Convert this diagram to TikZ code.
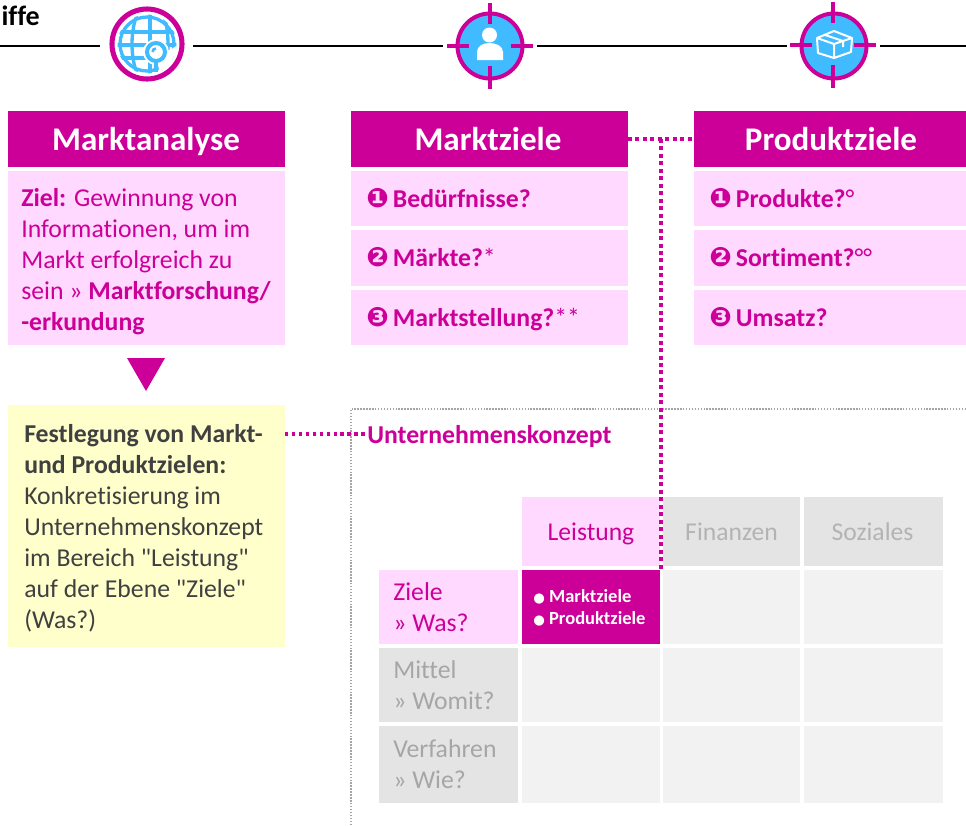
\documentclass[tikz,border=0pt]{standalone}
\usepackage{fontspec}
\setmainfont[Ligatures=NoCommon]{Carlito}
\newfontfamily\symfont{DejaVu Sans}
\newfontfamily\qf{Carlito}
\definecolor{mag}{HTML}{CC0099}
\definecolor{lpink}{HTML}{FFD9FF}
\definecolor{lyel}{HTML}{FFFFCC}
\definecolor{skyb}{HTML}{40BBFF}
\definecolor{cellg}{HTML}{F2F2F2}
\definecolor{headg}{HTML}{E4E4E4}
\definecolor{txtg}{HTML}{A6A6A6}
\definecolor{frameg}{HTML}{A6A6A6}
\newcommand{\pxbox}[5]{\node[#1,anchor=north west,minimum width=#4*0.75pt,minimum height=#5*0.75pt] (#2) at #3 {};}
\newcommand{\numA}{\makebox[20pt][l]{\symfont\fontsize{20}{16}\selectfont ❶}}
\newcommand{\numB}{\makebox[20pt][l]{\symfont\fontsize{20}{16}\selectfont ❷}}
\newcommand{\numC}{\makebox[20pt][l]{\symfont\fontsize{20}{16}\selectfont ❸}}
\newcommand{\qq}{{\qf"}}
\tikzset{
  fillbox/.style={inner sep=0pt,outer sep=0pt,draw=none},
  headbox/.style={fillbox,fill=mag},
  pinkbox/.style={fillbox,fill=lpink},
  yelbox/.style={fillbox,fill=lyel},
  greybox/.style={fillbox,fill=cellg},
  greyhead/.style={fillbox,fill=headg},
  headtxt/.style={inner sep=0pt,anchor=base,text=white,font=\fontsize{24.8}{28}\selectfont\bfseries},
  bodytxt/.style={inner sep=0pt,anchor=north west,align=left,font=\fontsize{19.3}{23.25}\selectfont},
  rowtxt/.style={inner sep=0pt,anchor=base west,text=mag,font=\fontsize{19.3}{22}\selectfont\bfseries},
  celltxt/.style={inner sep=0pt,anchor=west,align=left,font=\fontsize{19.3}{23.25}\selectfont},
  coltxt/.style={inner sep=0pt,anchor=base,font=\fontsize{19.2}{22}\selectfont},
  rule/.style={line width=1.5pt,black},
  pinkdots/.style={draw=mag,line width=3.3pt,dash pattern=on 3pt off 2.6pt},
  pinkdotsthin/.style={draw=mag,line width=2.4pt,dash pattern=on 2.6pt off 2.6pt},
  framedots/.style={draw=frameg,line width=1.1pt,dash pattern=on 1.1pt off 1.1pt},
  icondisk/.style={circle,minimum size=65*0.75pt,inner sep=0pt,fill=skyb,draw=mag,line width=3pt},
  ring/.style={circle,minimum size=70*0.75pt,inner sep=0pt,fill=white,draw=mag,line width=3.8pt},
  crosshair/.style={draw=mag,line width=3.4pt},
  glyph/.style={draw=white,line width=1.5pt,line join=round},
  globeline/.style={draw=skyb,line width=2.5pt},
}
\begin{document}
\begin{tikzpicture}[x=0.75pt,y=-0.75pt]
\useasboundingbox (0,0) rectangle (966,825);

% top title
\node[inner sep=0pt,anchor=base east,font=\fontsize{21}{24}\selectfont\bfseries] (title) at (40,25) {iffe};

% icons
\node[ring] (iconA) at (147,44) {};
\begin{scope}
  \clip (147,44) circle (29.5);
  \foreach \yy in {32,45,58} \draw[globeline] (115,\yy) -- (180,\yy);
  \draw[globeline] (138,12) .. controls (130,30) and (130,58) .. (138,76);
  \draw[globeline] (150,12) -- (150,76);
  \draw[globeline] (162,12) .. controls (168,25) and (168,35) .. (168,50);
  \draw[globeline] (147,44) circle (27);
  \fill[white] (156,52) circle (13);
  \fill[white] (157,58) -- (178,45) -- (172,68) -- (160,76) -- cycle;
\end{scope}
\draw[globeline,line width=3pt] (156,52) circle (9);
\draw[globeline,line width=2pt] (152.5,52) .. controls (152.5,50) and (154,48.5) .. (156,48.5);
\draw[globeline,line width=3pt] (156,61) -- (156,72);

\node[icondisk] (iconB) at (490,46) {};
\foreach \dx/\dy/\ex/\ey in {-43/0/-21/0, 43/0/21/0, 0/-43/0/-22, 0/43/0/20}
  \draw[crosshair] (490+\dx,46+\dy) -- (490+\ex,46+\ey);
\fill[white] (489.5,35) circle (7.5);
\fill[white] (477,60) -- (477,52) .. controls (477,46) and (483,43) .. (489.5,43) .. controls (496,43) and (503,46) .. (503,52) -- (503,60) -- cycle;

\node[icondisk] (iconC) at (834,46) {};
\foreach \dx/\dy/\ex/\ey in {-43/0/-21/0, 43/0/21/0, 0/-43/0/-22, 0/43/0/20}
  \draw[crosshair] (833+\dx,45+\dy) -- (833+\ex,45+\ey);
\draw[glyph] (817,38) -- (834,44) -- (852,38) -- (834,31) -- cycle
  (817,38) -- (818,53) -- (834,58) -- (834,44)
  (834,58) -- (851,52) -- (852,38)
  (825,35) -- (843,41) -- (843,47);

% black rules
\coordinate (ruleLa) at (0,46);
\coordinate (ruleRb) at (966,46);
\draw[rule] (ruleLa) -- (100,46);
\draw[rule] (193,46) -- (443,46);
\draw[rule] (537,46) -- (787,46);
\draw[rule] (880,46) -- (ruleRb);

% column 1
\pxbox{headbox}{mah}{(8,111)}{277}{56}
\node[headtxt] at (146,150) {Marktanalyse};
\pxbox{pinkbox}{mab}{(8,171)}{277}{174}
\node[bodytxt,text=mag] (mabt) at (21,188) {\textbf{Ziel:} Gewinnung von\\Informationen, um im\\Markt erfolgreich zu\\sein » \textbf{Marktforschung/}\\\textbf{-erkundung}};
\fill[mag] (127,358) -- (165,358) -- (146,391) -- cycle;
\pxbox{yelbox}{fest}{(8,405)}{277}{242}
\node[bodytxt,text=black!75!white] (festt) at (24,424) {\textbf{Festlegung von Markt-}\\\textbf{und Produktzielen:}\\Konkretisierung im\\Unternehmenskonzept\\im Bereich \qq Leistung\qq\\auf der Ebene \qq Ziele\qq\\(Was?)};

% column 2
\pxbox{headbox}{mzh}{(351,111)}{277}{56}
\node[headtxt] at (488,150) {Marktziele};
\pxbox{pinkbox}{mz1}{(351,171)}{277}{55}
\pxbox{pinkbox}{mz2}{(351,230)}{277}{56}
\pxbox{pinkbox}{mz3}{(351,290)}{277}{55}
\node[rowtxt] at (366,207) {\numA Bedürfnisse?};
\node[rowtxt] at (366,266.5) {\numB Märkte?{\mdseries*}};
\node[rowtxt] at (366,326) {\numC Marktstellung?{\mdseries**}};

% column 3
\pxbox{headbox}{pzh}{(694,111)}{272}{56}
\node[headtxt] at (831,150) {Produktziele};
\pxbox{pinkbox}{pz1}{(694,171)}{272}{55}
\pxbox{pinkbox}{pz2}{(694,230)}{272}{56}
\pxbox{pinkbox}{pz3}{(694,290)}{272}{55}
\node[rowtxt] at (709,207) {\numA Produkte?{\mdseries°}};
\node[rowtxt] at (709,266.5) {\numB Sortiment?{\mdseries°°}};
\node[rowtxt] at (709,326) {\numC Umsatz?};

% frame
\coordinate (frameBL) at (351,825);
\coordinate (frameTL) at (351,409);
\coordinate (frameTR) at (966,409);
\draw[framedots] (frameBL) -- (frameTL) -- (frameTR);

% concept title
\node[inner sep=0pt,anchor=base west,text=mag,font=\fontsize{19.3}{22}\selectfont\bfseries] (uk) at (367,443) {Unternehmenskonzept};
\coordinate (ukl) at (367,434);

% grid
\pxbox{pinkbox}{leis}{(522,497)}{138}{69}
\pxbox{greyhead}{fin}{(663,497)}{137}{69}
\pxbox{greyhead}{soz}{(804,497)}{139}{69}
\node[coltxt,text=mag] at (591,540) {Leistung};
\node[coltxt,text=txtg!85!white] at (731.5,540) {Finanzen};
\node[coltxt,text=txtg!85!white] at (872.5,540) {Soziales};

\pxbox{pinkbox}{ziele}{(379,570)}{139}{74}
\pxbox{headbox}{zl}{(522,570)}{138}{74}
\pxbox{greybox}{zf}{(663,570)}{137}{74}
\pxbox{greybox}{zs}{(804,570)}{139}{74}
\pxbox{greyhead}{mit}{(379,648)}{139}{74}
\pxbox{greybox}{ml}{(522,648)}{138}{74}
\pxbox{greybox}{mf}{(663,648)}{137}{74}
\pxbox{greybox}{ms}{(804,648)}{139}{74}
\pxbox{greyhead}{ver}{(379,726)}{139}{77}
\pxbox{greybox}{vl}{(522,726)}{138}{77}
\pxbox{greybox}{vf}{(663,726)}{137}{77}
\pxbox{greybox}{vs}{(804,726)}{139}{77}
\node[celltxt,text=mag] at (393,607) {Ziele\\» Was?};
\node[celltxt,text=txtg] at (393,685) {Mittel\\» Womit?};
\node[celltxt,text=txtg] at (393,764) {Verfahren\\» Wie?};
\node[inner sep=0pt,anchor=west,align=left,text=white,font=\fontsize{13.9}{16.5}\selectfont\bfseries] at (533,608) {{\symfont\fontsize{10}{10}\selectfont ●} Marktziele\\{\symfont\fontsize{10}{10}\selectfont ●} Produktziele};

% dotted connectors
\coordinate (jn) at (661,139);
\draw[pinkdots] (mzh.east) -- (pzh.west);
\draw[pinkdots] (jn) -- (661,570);
\draw[pinkdotsthin] (fest.east |- ukl) -- (ukl);
\end{tikzpicture}
\end{document}
